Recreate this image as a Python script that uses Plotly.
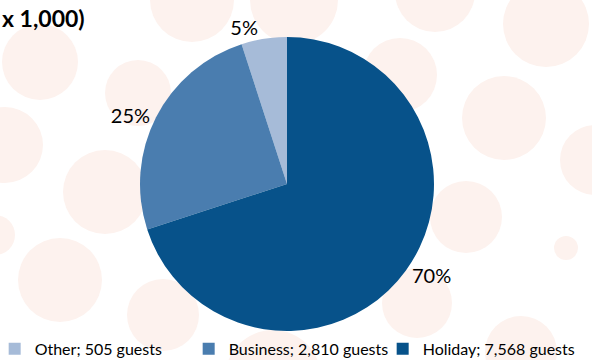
import plotly.graph_objects as go

# Guests by purpose of stay (x 1,000)
categories = ["Other", "Business", "Holiday"]
guests = [505, 2810, 7568]
shares = [5, 25, 70]  # percent of all guests
colors = ["#A6BBD8", "#4A7DAF", "#07528A"]

legend_labels = [f"{c}; {g:,} guests" for c, g in zip(categories, guests)]

W, H = 592, 360
cx, cy, r = 287, 184, 147

fig = go.Figure(
    go.Pie(
        labels=legend_labels,
        values=shares,
        sort=False,
        direction="counterclockwise",
        rotation=-18,
        marker=dict(colors=colors, line=dict(width=0)),
        texttemplate="%{value}%",
        textposition="outside",
        outsidetextfont=dict(family="Lato", size=20, color="#000000"),
        domain=dict(x=[(cx - r) / W, (cx + r) / W], y=[(H - cy - r) / H, (H - cy + r) / H]),
        hoverinfo="label+percent",
    )
)

# soft decorative dots in the background
dots = [
    (40, 62, 38), (192, 0, 42), (294, 0, 44), (435, -8, 40), (546, 24, 43),
    (5, 145, 38), (105, 192, 42), (138, 93, 33), (400, 75, 37), (504, 118, 42),
    (595, 160, 35), (466, 217, 36), (566, 248, 12), (60, 280, 42), (163, 315, 36),
    (417, 303, 35), (521, 352, 36), (273, 378, 48), (-5, 235, 20),
]
shapes = [
    dict(type="circle", xref="paper", yref="paper", layer="below",
         x0=(x - rr) / W, x1=(x + rr) / W, y0=(H - y - rr) / H, y1=(H - y + rr) / H,
         fillcolor="#FDF2EE", line=dict(width=0))
    for x, y, rr in dots
]

fig.update_layout(
    width=W, height=H,
    margin=dict(l=0, r=0, t=0, b=0, autoexpand=False),
    paper_bgcolor="#FFFFFF",
    plot_bgcolor="#FFFFFF",
    shapes=shapes,
    showlegend=True,
    legend=dict(
        orientation="h",
        xref="paper", yref="paper",
        x=-0.009, y=-0.016, xanchor="left", yanchor="bottom",
        font=dict(family="Lato", size=16, color="#000000"),
        entrywidth=149, entrywidthmode="pixels",
        bgcolor="rgba(0,0,0,0)",
    ),
    annotations=[
        dict(text="<b>x 1,000)</b>", xref="paper", yref="paper", x=0, y=1,
             xanchor="left", yanchor="top", showarrow=False, yshift=-2,
             font=dict(family="Lato", size=23, color="#000000"))
    ],
)

fig.write_html("out.html")
